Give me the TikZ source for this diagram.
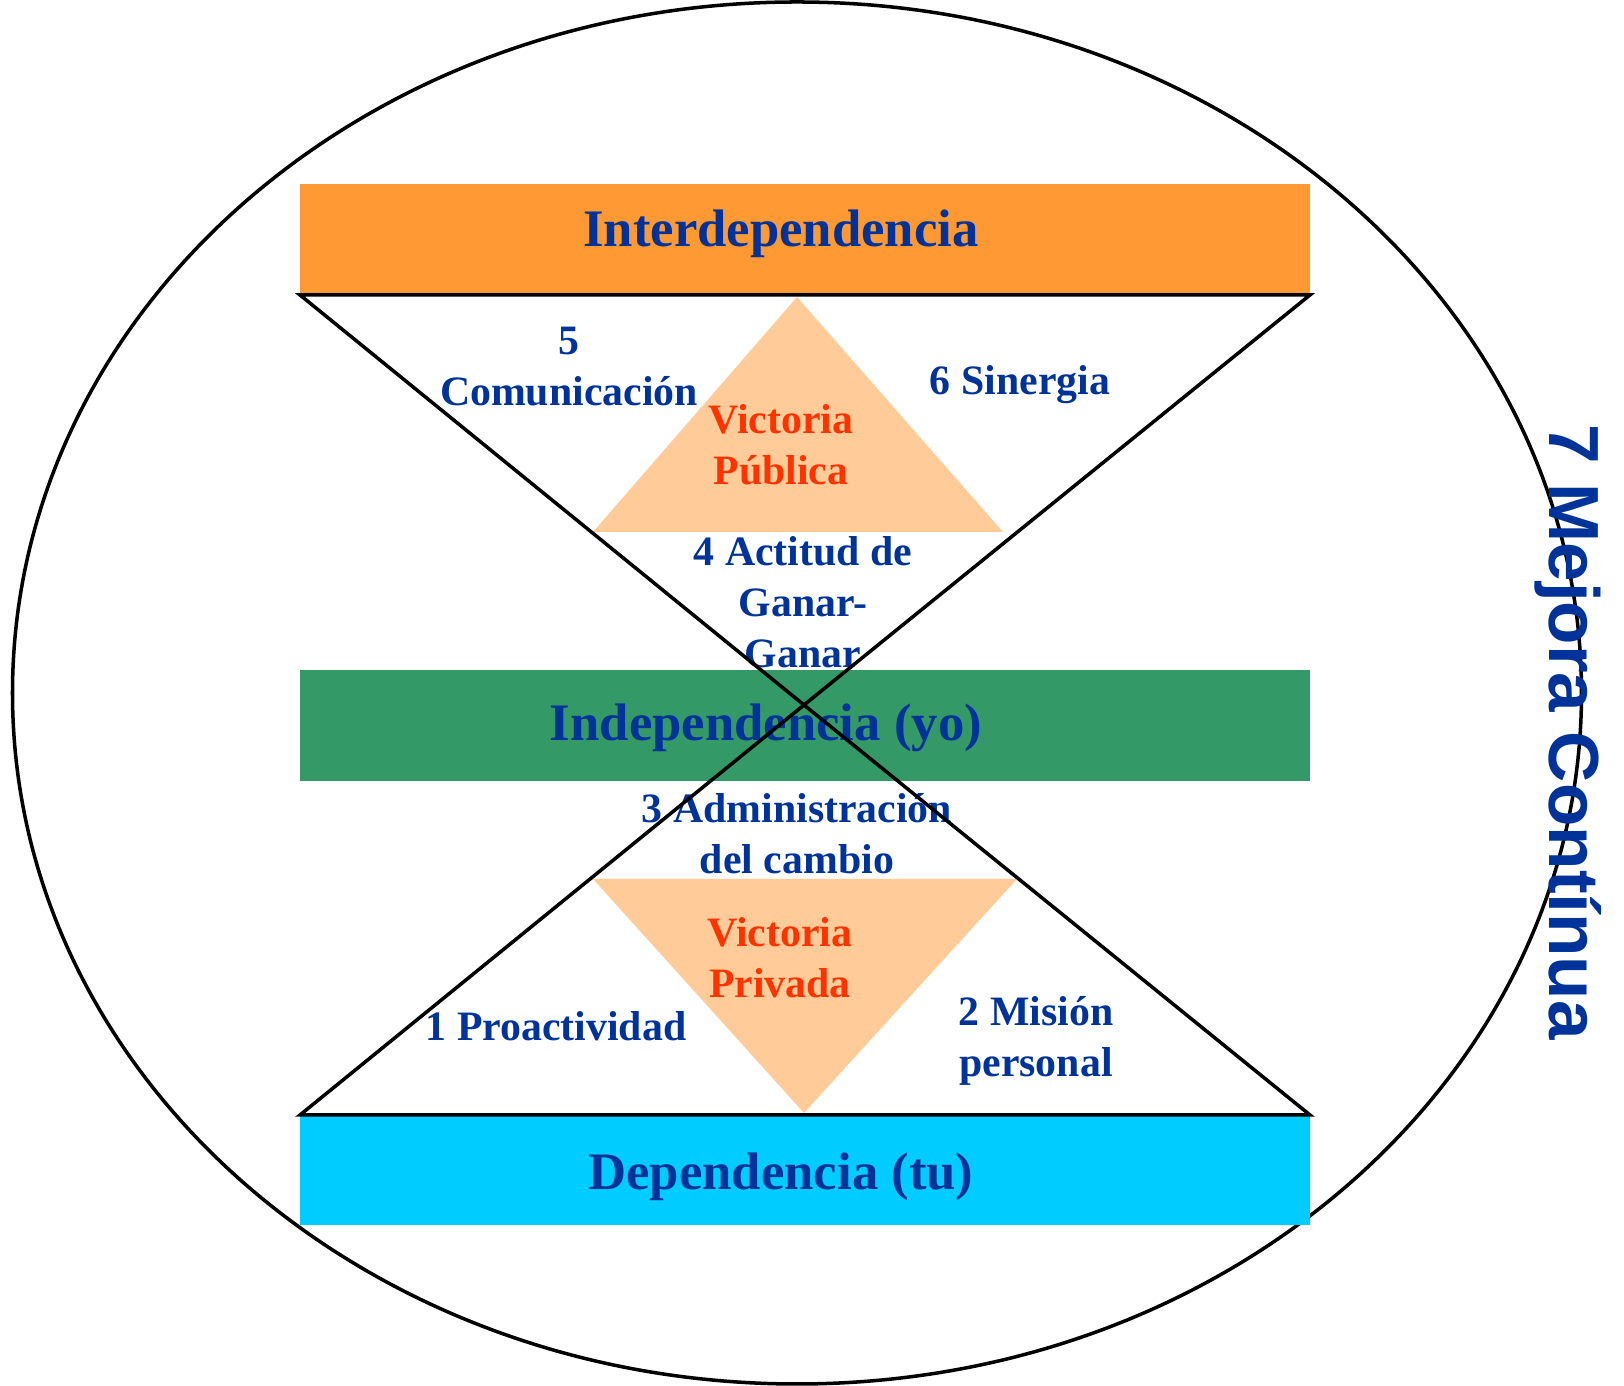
\documentclass[tikz,border=0pt]{standalone}
\usepackage{fontspec}
\setmainfont{Liberation Serif}
\newfontfamily\mejorafont{Liberation Sans Bold}
\definecolor{barorange}{HTML}{FF9933}
\definecolor{bargreen}{HTML}{339966}
\definecolor{barcyan}{HTML}{00CCFF}
\definecolor{peach}{HTML}{FFCC99}
\definecolor{labelblue}{HTML}{003399}
\definecolor{victred}{HTML}{FF3300}
\begin{document}
\begin{tikzpicture}[scale=1.0,
  bigtext/.style={text=labelblue,font=\fontsize{15}{18}\selectfont\bfseries,inner sep=0pt},
  smalltext/.style={text=labelblue,font=\fontsize{11.9}{14.5}\selectfont\bfseries,align=center,inner sep=0pt},
  victext/.style={smalltext,text=victred}]
\useasboundingbox (0,0) rectangle (16.24,13.86);
\draw[line width=1pt] (7.97,6.93) ellipse (7.845 and 6.91);
\fill[barorange] (3.00,10.91) rectangle (13.10,12.02);
\fill[bargreen] (3.00,6.05) rectangle (13.10,7.16);
\fill[barcyan] (3.00,1.61) rectangle (13.10,2.71);
\fill[peach] (5.93,8.54) -- (7.97,10.89) -- (10.03,8.54) -- cycle;
\fill[peach] (5.93,5.07) -- (8.04,2.73) -- (10.17,5.07) -- cycle;
\node[bigtext,anchor=base] (inter) at (7.81,11.39) {Interdependencia};
\node[bigtext,anchor=base] (indep) at (7.66,6.45) {Independencia (yo)};
\node[bigtext,anchor=base] (dep) at (7.81,1.96) {Dependencia (tu)};
\node[smalltext] (comun) at (5.69,10.195) {5\\Comunicación};
\node[smalltext,anchor=base] (sinerg) at (10.20,9.91) {6 Sinergia};
\node[victext] (vpub) at (7.81,9.41) {Victoria\\Pública};
\node[smalltext] (ganar) at (8.03,7.835) {4 Actitud de\\Ganar-\\Ganar};
\node[smalltext] (admin) at (7.97,5.52) {3 Administración\\del cambio};
\node[victext] (vpriv) at (7.80,4.28) {Victoria\\Privada};
\node[smalltext,anchor=base] (proact) at (5.56,3.45) {1 Proactividad};
\node[smalltext] (mision) at (10.36,3.45) {2 Misión\\personal};
\draw[line width=1pt] (3.00,10.91) -- (13.10,10.91) -- (8.04,6.81) -- cycle;
\draw[line width=1pt] (3.00,2.71) -- (13.10,2.71) -- (8.04,6.81) -- cycle;
\node[text=labelblue,font=\mejorafont\fontsize{20.2}{24}\selectfont,rotate=-90,inner sep=0pt] (mejora) at (15.68,6.54) {7 Mejora Contínua};
\end{tikzpicture}
\end{document}
